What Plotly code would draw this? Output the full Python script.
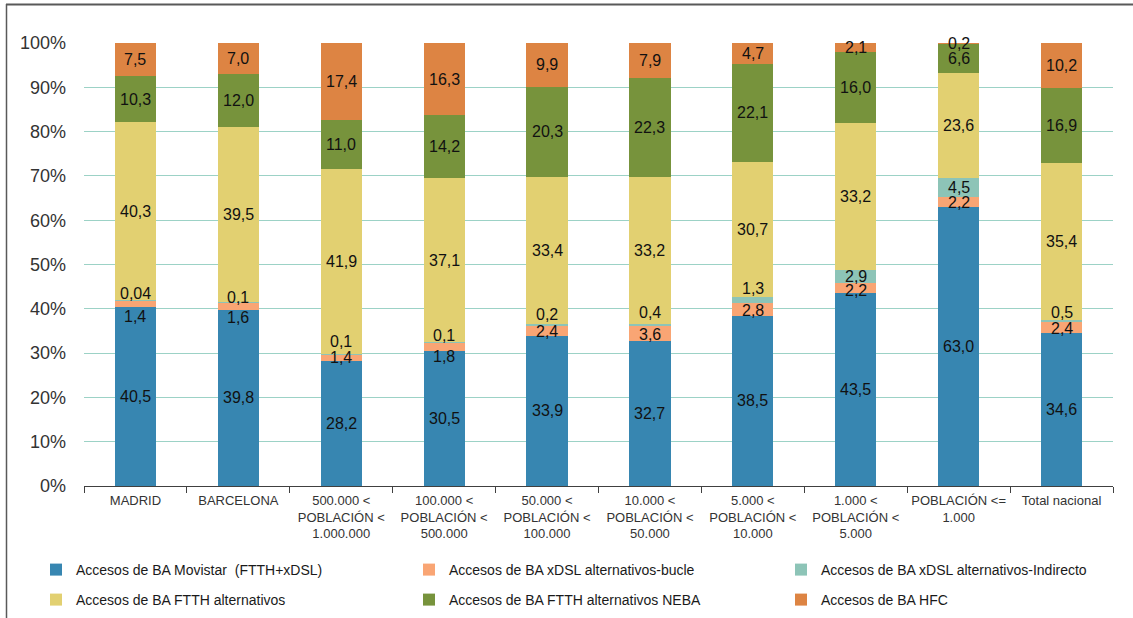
import plotly.graph_objects as go

categories = ["MADRID", "BARCELONA", "500.000 &lt;<br>POBLACIÓN &lt;<br>1.000.000",
              "100.000 &lt;<br>POBLACIÓN &lt;<br>500.000", "50.000 &lt;<br>POBLACIÓN &lt;<br>100.000",
              "10.000 &lt;<br>POBLACIÓN &lt;<br>50.000", "5.000 &lt;<br>POBLACIÓN &lt;<br>10.000",
              "1.000 &lt;<br>POBLACIÓN &lt;<br>5.000", "POBLACIÓN &lt;=<br>1.000", "Total nacional"]

movistar = [40.5, 39.8, 28.2, 30.5, 33.9, 32.7, 38.5, 43.5, 63.0, 34.6]
bucle = [1.4, 1.6, 1.4, 1.8, 2.4, 3.6, 2.8, 2.2, 2.2, 2.4]
indirecto = [0.04, 0.1, 0.1, 0.1, 0.2, 0.4, 1.3, 2.9, 4.5, 0.5]
ftth = [40.3, 39.5, 41.9, 37.1, 33.4, 33.2, 30.7, 33.2, 23.6, 35.4]
neba = [10.3, 12.0, 11.0, 14.2, 20.3, 22.3, 22.1, 16.0, 6.6, 16.9]
hfc = [7.5, 7.0, 17.4, 16.3, 9.9, 7.9, 4.7, 2.1, 0.2, 10.2]

series_names = ["Accesos de BA Movistar  (FTTH+xDSL)", "Accesos de BA xDSL alternativos-bucle",
                "Accesos de BA xDSL alternativos-Indirecto", "Accesos de BA FTTH alternativos",
                "Accesos de BA FTTH alternativos NEBA", "Accesos de BA HFC"]
series_values = [movistar, bucle, indirecto, ftth, neba, hfc]

# styles
colors = ["#3786B1", "#F9A574", "#8DC4B7", "#E2D071", "#77933C", "#DD8443"]
legend_ids = ["legend", "legend2", "legend3", "legend4", "legend5", "legend6"]
# legend box positions in page pixels (left, top)
legend_pos = [(36, 554), (409, 554), (781, 554), (36, 584), (409, 584), (781, 584)]
# label pixel shifts (Excel overlap avoidance) per series, per category
label_shift = [
    [0] * 10,
    [-13, -11, 0, -10, -1, -1, -1, -2, 0, -1],
    [7, 5, 13, 7, 10, 12, 12, 0, 0, 8],
    [0] * 10,
    [0] * 10,
    [0] * 10,
]


def fmt(v):
    s = ("%.2f" % v) if v < 0.1 else ("%.1f" % v)
    return s.replace(".", ",")


fig = go.Figure()
for name, vals, col, lg in zip(series_names, series_values, colors, legend_ids):
    fig.add_trace(go.Bar(x=categories, y=vals, name=name, marker=dict(color=col, line=dict(width=0)),
                         legend=lg, hoverinfo="skip", showlegend=True))

totals = [sum(s[i] for s in series_values) for i in range(len(categories))]
annotations = []
for i, cat in enumerate(categories):
    base = 0.0
    for k, vals in enumerate(series_values):
        v = vals[i] / totals[i] * 100
        annotations.append(dict(x=cat, y=base + v / 2, text=fmt(vals[i]), showarrow=False,
                                yshift=label_shift[k][i], font=dict(size=16, color="#111111"),
                                xref="x", yref="y"))
        base += v

W, H = 1133, 618
ml, mr, mt, mb = 84, 20, 43, 132
pw, ph = W - ml - mr, H - mt - mb


def px(xp):
    return (xp - ml) / pw


def py(yp):
    return (H - mb - yp) / ph


shapes = [
    dict(type="line", xref="paper", yref="paper", x0=px(6), x1=px(1135), y0=py(4.5), y1=py(4.5),
         line=dict(color="#595959", width=2)),
    dict(type="line", xref="paper", yref="paper", x0=px(6.5), x1=px(6.5), y0=py(4), y1=py(620),
         line=dict(color="#595959", width=1.5)),
]

legends = {}
for lg, (lx, ly) in zip(legend_ids, legend_pos):
    legends[lg] = dict(orientation="h", x=px(lx), y=py(ly), xanchor="left", yanchor="top",
                       font=dict(size=14, color="#1a1a1a"), bgcolor="rgba(0,0,0,0)", itemwidth=30,
                       visible=True)

fig.update_layout(
    width=W, height=H, showlegend=True,
    margin=dict(l=ml, r=mr, t=mt, b=mb, autoexpand=False),
    barmode="stack", barnorm="percent", bargap=0.6,
    plot_bgcolor="white", paper_bgcolor="white",
    font=dict(family="Liberation Sans, Arial, sans-serif", color="#262626"),
    xaxis=dict(tickfont=dict(size=13, color="#333333"), ticks="outside", tickson="boundaries",
               ticklen=6, tickcolor="#404040", showline=True, linecolor="#404040", linewidth=1,
               showgrid=False, fixedrange=True, tickangle=0, ticklabelstandoff=2),
    yaxis=dict(range=[0, 100], dtick=10, ticksuffix="%", tickfont=dict(size=18, color="#333333"),
               showgrid=True, gridcolor="#9CD2C6", gridwidth=1, zeroline=False, showline=False,
               ticks="", ticklabelstandoff=17, fixedrange=True),
    annotations=annotations,
    shapes=shapes,
    **legends,
)

fig.write_html("out.html", config={"displayModeBar": False},
               post_script="document.body.style.margin='0';document.body.style.overflow='hidden';")
